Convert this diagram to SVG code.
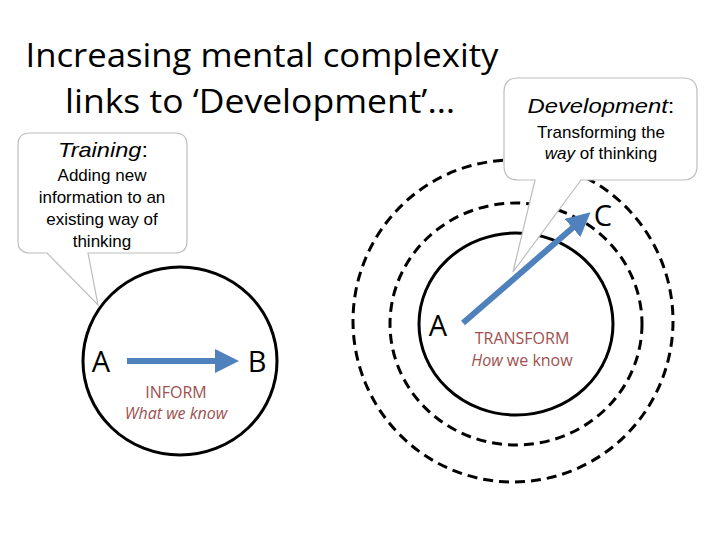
<svg xmlns="http://www.w3.org/2000/svg" width="720" height="540" viewBox="0 0 720 540">
<style>
.title{font-family:"Open Sans","Liberation Sans",sans-serif;font-size:32px;fill:#000;text-anchor:middle}
.bub{fill:#fff;stroke:#bdbdbd;stroke-width:1.2}
.bt{font-family:"Liberation Sans",Arial,sans-serif;font-size:17px;fill:#000;text-anchor:middle}
.bh{font-family:"Liberation Sans",Arial,sans-serif;font-size:21px;font-style:italic;fill:#000;text-anchor:middle}
.solid{fill:none;stroke:#000;stroke-width:3}
.dash{fill:none;stroke:#000;stroke-width:3;stroke-dasharray:10 6}
.letter{font-family:"Open Sans","Liberation Sans",sans-serif;font-size:29px;fill:#000;text-anchor:middle}
.lab{font-family:"Open Sans","Liberation Sans",sans-serif;font-size:16px;fill:#a0504d;text-anchor:middle}
.arrow{fill:none;stroke:#4f81bd;stroke-width:6}
</style>
<defs>
<marker id="ah" markerWidth="4" markerHeight="4" refX="1" refY="2" orient="auto" markerUnits="strokeWidth">
<path d="M0,0 L4,2 L0,4 z" fill="#4f81bd"/>
</marker>
</defs>
<rect width="720" height="540" fill="#fff"/>
<g id="title">
<text class="title" x="262" y="67" textLength="473" lengthAdjust="spacingAndGlyphs">Increasing mental complexity</text>
<text class="title" x="260" y="113" textLength="390" lengthAdjust="spacingAndGlyphs">links to ‘Development’…</text>
</g>
<g id="inform-circle">
<ellipse class="solid" cx="180" cy="361" rx="97" ry="94"/>
<text class="letter" x="101" y="372">A</text>
<text class="letter" x="257" y="372">B</text>
<text class="lab" x="176" y="398">INFORM</text>
<text class="lab" x="176" y="419" font-style="italic">What we know</text>
</g>
<g id="transform-circles">
<ellipse class="dash" cx="513" cy="321" rx="160" ry="161"/>
<ellipse class="dash" cx="516" cy="324" rx="126" ry="121"/>
<ellipse class="solid" cx="516" cy="324" rx="97" ry="91"/>
<text class="letter" x="438" y="336">A</text>
<text class="letter" x="603" y="226">C</text>
<text class="lab" x="522" y="344">TRANSFORM</text>
<text class="lab" x="522" y="366"><tspan font-style="italic">How</tspan> we know</text>
</g>
<g id="connectors">
<line class="arrow" x1="127" y1="361" x2="221" y2="361" marker-end="url(#ah)"/>
<line class="arrow" x1="463" y1="323" x2="577" y2="224" marker-end="url(#ah)"/>
</g>
<g id="training-bubble">
<path class="bub" d="M30,133 H175 Q187,133 187,145 V241 Q187,253 175,253 H88 L98,305 L47,253 H30 Q18,253 18,241 V145 Q18,133 30,133 Z"/>
<text class="bh" x="103" y="157" textLength="90" lengthAdjust="spacingAndGlyphs">Training<tspan font-style="normal">:</tspan></text>
<text class="bt" x="102" y="181">Adding new</text>
<text class="bt" x="102" y="203">information to an</text>
<text class="bt" x="102" y="225">existing way of</text>
<text class="bt" x="102" y="247">thinking</text>
</g>
<g id="development-bubble">
<path class="bub" d="M518,78 H683 Q697,78 697,92 V166 Q697,180 683,180 H581 L513,272 L535,180 H518 Q504,180 504,166 V92 Q504,78 518,78 Z"/>
<text class="bh" x="601" y="113" textLength="147" lengthAdjust="spacingAndGlyphs">Development<tspan font-style="normal">:</tspan></text>
<text class="bt" x="601" y="138">Transforming the</text>
<text class="bt" x="601" y="159"><tspan font-style="italic">way</tspan> of thinking</text>
</g>
</svg>
